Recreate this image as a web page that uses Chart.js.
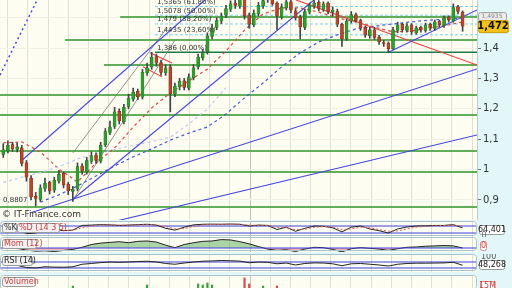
<!DOCTYPE html>
<html>
<head>
<meta charset="utf-8">
<script src="https://cdn.jsdelivr.net/npm/chart.js@4.4.1/dist/chart.umd.min.js"></script>
<style>
  body { margin: 0; width: 512px; height: 288px; overflow: hidden; position: relative; background: #e3f6f8; }
  canvas { position: absolute; left: 0; }
</style>
</head>
<body>
<canvas id="main" width="512" height="220" style="top:0"></canvas>
<canvas id="sto" width="512" height="16" style="top:221px"></canvas>
<canvas id="mom" width="512" height="15" style="top:237px"></canvas>
<canvas id="rsi" width="512" height="18" style="top:254px"></canvas>
<canvas id="vol" width="512" height="13" style="top:275px"></canvas>
<script>
// weekly candles (price)
const opens = [1.050,1.062,1.082,1.066,1.072,1.022,0.972,0.912,0.902,0.938, 0.958,0.932,0.962,0.988,0.952,0.928,0.938,1.012,0.992,1.028,
  1.048,1.028,1.082,1.122,1.142,1.192,1.158,1.208,1.232,1.258, 1.238,1.318,1.338,1.372,1.352,1.318,1.338,1.248,1.272,1.292,
  1.268,1.302,1.338,1.368,1.388,1.438,1.468,1.488,1.508,1.528, 1.548,1.538,1.562,1.508,1.476,1.512,1.538,1.558,1.572,1.548,
  1.502,1.532,1.552,1.522,1.502,1.468,1.518,1.538,1.550,1.528, 1.548,1.518,1.520,1.478,1.430,1.488,1.510,1.490,1.468,1.440,
  1.460,1.436,1.418,1.416,1.398,1.458,1.478,1.458,1.476,1.450, 1.468,1.458,1.478,1.464,1.488,1.474,1.502,1.490,1.536,1.518];
const closes = [1.065,1.080,1.068,1.075,1.020,0.975,0.910,0.905,0.940,0.955, 0.930,0.965,0.985,0.950,0.930,0.935,1.010,0.995,1.030,1.045,
  1.030,1.080,1.125,1.140,1.190,1.160,1.205,1.235,1.255,1.240, 1.320,1.335,1.370,1.350,1.320,1.335,1.250,1.275,1.290,1.270,
  1.305,1.335,1.370,1.385,1.440,1.465,1.490,1.505,1.530,1.545, 1.540,1.565,1.505,1.478,1.515,1.540,1.556,1.572,1.545,1.505,
  1.535,1.552,1.525,1.500,1.470,1.520,1.540,1.548,1.530,1.545, 1.520,1.525,1.478,1.430,1.488,1.510,1.490,1.465,1.442,1.460,
  1.435,1.420,1.415,1.398,1.460,1.476,1.460,1.473,1.453,1.466, 1.460,1.476,1.466,1.486,1.476,1.500,1.493,1.533,1.520,1.472];
const highs = [1.085,1.095,1.090,1.088,1.080,1.030,0.980,0.925,0.950,0.972, 0.962,0.975,0.998,0.992,0.958,0.945,1.022,1.020,1.040,1.058,
  1.055,1.090,1.135,1.160,1.205,1.200,1.215,1.248,1.268,1.265, 1.330,1.350,1.386,1.380,1.360,1.345,1.345,1.285,1.300,1.300,
  1.315,1.345,1.380,1.395,1.450,1.478,1.500,1.515,1.540,1.555, 1.560,1.575,1.570,1.515,1.525,1.550,1.566,1.580,1.578,1.552,
  1.545,1.560,1.558,1.530,1.508,1.528,1.548,1.556,1.556,1.552, 1.552,1.535,1.528,1.482,1.495,1.520,1.515,1.495,1.472,1.468,
  1.468,1.442,1.425,1.420,1.468,1.485,1.482,1.480,1.480,1.472, 1.472,1.482,1.482,1.492,1.492,1.506,1.506,1.545,1.540,1.522];
const lows = [1.040,1.055,1.060,1.058,1.012,0.962,0.900,0.8807,0.895,0.928, 0.920,0.925,0.955,0.940,0.918,0.895,0.930,0.985,0.985,1.020,
  1.020,1.022,1.075,1.115,1.135,1.150,1.150,1.200,1.225,1.230, 1.232,1.310,1.330,1.340,1.310,1.310,1.190,1.240,1.262,1.262,
  1.262,1.295,1.330,1.360,1.380,1.430,1.460,1.480,1.500,1.520, 1.530,1.530,1.495,1.465,1.470,1.505,1.530,1.550,1.540,1.460,
  1.495,1.525,1.515,1.492,1.430,1.460,1.512,1.530,1.522,1.520, 1.512,1.505,1.470,1.405,1.425,1.482,1.485,1.458,1.435,1.432,
  1.428,1.412,1.405,1.386,1.395,1.450,1.452,1.452,1.445,1.445, 1.452,1.452,1.458,1.458,1.468,1.468,1.485,1.485,1.512,1.455];
const volumes = [8,7,9,6,10,9,11,8,7,9, 6,8,7,9,10,14,9,8,7,6, 8,9,7,8,10,9,8,7,9,10, 8,15,9,8,10,11,9,8,7,9,
  10,8,16,15,17,15,9,8,10,9, 8,11,22,16,9,10,14,8,9,14, 10,8,9,11,10,8,9,7,8,9, 10,8,9,11,10,8,7,9,8,10,
  9,8,7,10,11,9,8,7,9,8, 10,9,8,7,9,11,8,10,9,8];

// moving averages sampled every 4 weeks
const maIdx = [0,4,8,12,16,20,24,28,32,36,40,44,48,52,56,60,64,68,72,76,80,84,88,92,96,99];
const redMA = [1.088,1.091,1.058,1.002,0.959,1.022,1.071,1.140,1.203,1.252,1.292,1.331,1.390,1.459,1.512,1.532,1.532,1.518,1.499,1.486,1.469,1.453,1.456,1.466,1.476,1.486];
const blueMA = [null,null,0.893,0.917,0.946,0.979,1.012,1.042,1.068,1.097,1.120,1.140,1.183,1.236,1.285,1.338,1.384,1.420,1.443,1.463,1.472,1.479,1.486,1.492,1.495,1.499];
const paleMA = [0.958,0.975,0.990,1.010,1.035,1.052,1.066,1.080,1.092,1.107,1.150,1.200,1.270,null,null,null,null,null,null,null,null,null,null,null,null,null];

// horizontal support / resistance levels and where they start
const supportLevels = [1.502, 1.426, 1.344, 1.245, 1.180, 1.061, 0.992, 0.877];
const supportFrom   = [25.2, 13.3, 21.7, -0.7, -0.7, -0.7, -0.7, -0.7];
const fibLevels = [1.5365, 1.5078, 1.479, 1.4435, 1.386];
const fibPct = ['61,80%', '50,00%', '38,20%', '23,60%', '0,00%'];
const fibFrom = 32.7;
const lowLabel = 0.8807;
const lastPrice = 1.472;

// trend lines [week, price]
const blueTrends = [
  [[3.61, 1.025], [43.48, 1.558]],
  [[14.82, 0.900], [66.97, 1.558]],
  [[5.77, 0.857], [102.1, 1.331]],
  [[20.85, 0.818], [102.1, 1.114]],
  [[83.14, 1.387], [102.1, 1.525]]
];
const blueDotted = [[-0.7, 1.311], [7.5, 1.564]];
const redTrends = [
  [[63.09, 1.558], [102.1, 1.344]],
  [[31.63, 1.384], [36.37, 1.351]],
  [[30.12, 1.338], [34.21, 1.305]]
];
const greyTrends = [
  [[15.03, 1.055], [35.29, 1.466]],
  [[15.03, 0.900], [37.02, 1.426]]
];

// oscillators, every second week
const oscIdx = Array.from({length: 50}, (_, k) => 2 * k + 1);
const stochK = [70,55,15,20,50,45,40,45,85,88, 92,90,85,88,92,95,88,60,45,70, 90,95,96,95,97,95,80,88,85,50,
  70,35,60,80,78,65,30,70,80,55, 40,20,55,72,80,82,85,85,92,64.4];
const stochD = [75,62,35,22,35,45,43,42,65,80, 88,90,88,87,88,92,90,75,55,58, 75,88,93,95,96,95,88,86,85,68,
  65,50,52,68,76,72,50,55,70,65, 50,35,38,55,70,78,82,84,88,78];
const momentum = [0.01,-0.01,-0.06,-0.09,-0.08,-0.1,-0.07,-0.04,0.02,0.1, 0.14,0.16,0.18,0.15,0.19,0.2,0.17,0.08,0.01,0.1,
  0.15,0.19,0.2,0.24,0.23,0.18,0.12,0.04,-0.03,-0.07, -0.05,-0.1,-0.03,0.02,0.01,-0.04,-0.11,-0.02,0.01,-0.01,
  -0.03,-0.07,-0.02,0.02,0.03,0.05,0.06,0.07,0.06,0];
const rsi = [55,48,33,30,38,36,35,38,55,60, 66,70,68,70,73,75,70,60,55,63, 70,75,77,80,78,76,65,70,68,58,
  63,50,60,64,63,58,45,58,60,55, 50,43,55,60,62,62,63,64,68,48.3];

const xMin = -0.7, xMax = 102.1;
const yearMark = 53.18, monthStep = 4.353;
const fmt = v => String(v).replace('.', ',');
const FONT = '"DejaVu Sans", sans-serif';
const isUp = i => closes[i] >= opens[i];

// vertical month grid
const xScale = () => ({
  type: 'linear', min: xMin, max: xMax, offset: false,
  afterBuildTicks: s => {
    const t = [];
    for (let k = -12; k <= 11; k++) t.push({ value: yearMark + k * monthStep });
    s.ticks = t;
  },
  ticks: { display: false },
  grid: { offset: false, drawTicks: false, color: c => (c.tick && Math.abs(c.tick.value - yearMark) < 0.01) ? '#c4c4b8' : '#e0e0d4' },
  border: { display: false },
  afterFit: s => { s.height = 0; s.paddingLeft = 0; s.paddingRight = 0; }
});

const line = (pts, color, width, dash, order) => ({
  type: 'line', data: pts.map(p => ({ x: p[0], y: p[1] })),
  borderColor: color, borderWidth: width, borderDash: dash || [],
  pointRadius: 0, fill: false, tension: 0, order: order || 3
});
const maLine = (vals, color, width) => line(maIdx.map((x, k) => [x, vals[k]]).filter(p => p[1] !== null), color, width, [3, 3], 4);

function box(ctx, x, y, w, h, fill, stroke) {
  ctx.fillStyle = fill; ctx.strokeStyle = stroke; ctx.lineWidth = 1;
  ctx.beginPath(); ctx.roundRect(x + 0.5, y + 0.5, w, h, 2); ctx.fill(); ctx.stroke();
}

const bg = {
  id: 'bg',
  beforeDraw(c) {
    const { ctx, chartArea: a } = c;
    ctx.save();
    ctx.fillStyle = '#e3f6f8'; ctx.fillRect(0, 0, c.width, c.height);
    ctx.fillStyle = '#fdfdf1'; ctx.fillRect(a.left, a.top, a.right - a.left, a.bottom - a.top);
    ctx.restore();
  }
};

// ---------- main price chart ----------
const mainSets = [];
mainSets.push({
  type: 'bar', data: closes.map((_, i) => ({ x: i, y: [lows[i], highs[i]] })),
  backgroundColor: '#444', barThickness: 1, grouped: false, order: 1
});
mainSets.push({
  type: 'bar', data: closes.map((_, i) => ({ x: i, y: [opens[i], closes[i]] })),
  backgroundColor: closes.map((_, i) => isUp(i) ? '#2f9e2f' : '#b8452a'),
  borderColor: closes.map((_, i) => isUp(i) ? '#1d6e1d' : '#7a2a18'),
  borderWidth: 0.5, borderSkipped: false, barThickness: 3, grouped: false, order: 0
});
supportLevels.forEach((v, k) => mainSets.push(line([[supportFrom[k], v], [xMax, v]], 'rgba(70,160,65,0.85)', 2, null, 5)));
fibLevels.forEach((v, k) => mainSets.push(line([[fibFrom, v], [xMax, v]],
  k === fibLevels.length - 1 ? '#1f7a4a' : '#7fd0ec', k === fibLevels.length - 1 ? 1.5 : 1, k === fibLevels.length - 1 ? null : [3, 2], 5)));
mainSets.push(maLine(paleMA, '#c4c8f0', 1.2));
mainSets.push(maLine(blueMA, '#4a5ad8', 1.2));
mainSets.push(maLine(redMA, '#e04848', 1.2));
blueTrends.forEach(t => mainSets.push(line(t, '#4848e0', 1.1, null, 3)));
mainSets.push(line(blueDotted, '#4848e0', 1.5, [2, 3], 3));
redTrends.forEach(t => mainSets.push(line(t, '#ee4040', 1.1, null, 3)));
greyTrends.forEach(t => mainSets.push(line(t, '#777777', 0.8, null, 3)));

const mainOverlay = {
  id: 'mainOverlay',
  afterDraw(c) {
    const { ctx } = c, xs = c.scales.x, ys = c.scales.y;
    ctx.save();
    ctx.textBaseline = 'bottom';
    ctx.fillStyle = '#333';
    ctx.font = '7px ' + FONT;
    fibLevels.forEach((v, k) => {
      ctx.fillText(fmt(v) + ' (' + fibPct[k] + ')', xs.getPixelForValue(fibFrom) + 2, ys.getPixelForValue(v) - 1);
    });
    ctx.fillText(fmt(lowLabel), 3, ys.getPixelForValue(lowLabel) - 2);
    ctx.font = '9px ' + FONT;
    ctx.textBaseline = 'middle';
    ctx.fillText('\u00A9 IT-Finance.com', 2, 215);
    // price boxes on the axis
    const py = ys.getPixelForValue(lastPrice);
    box(ctx, 478, py - 14, 28, 8, '#ececec', '#a0a0a0');
    ctx.fillStyle = '#888'; ctx.font = '6px ' + FONT; ctx.textAlign = 'center';
    ctx.fillText('1,4935', 492, py - 10);
    box(ctx, 478, py - 6, 30, 12, '#f2c21a', '#c9a000');
    ctx.fillStyle = '#111'; ctx.font = 'bold 10px ' + FONT;
    ctx.fillText(fmt(lastPrice), 493, py + 0.5);
    ctx.restore();
  }
};

new Chart(document.getElementById('main'), {
  type: 'bar',
  data: { datasets: mainSets },
  options: {
    responsive: false, animation: false, devicePixelRatio: 1,
    layout: { padding: 0 },
    plugins: { legend: { display: false }, tooltip: { enabled: false } },
    scales: {
      x: xScale(),
      y: {
        position: 'right', min: 0.8342, max: 1.5579,
        ticks: { stepSize: 0.1, includeBounds: false, color: '#333', font: { size: 10, family: FONT }, padding: 2,
          callback: v => fmt(Math.round(v * 10) / 10) },
        grid: { color: '#f1f1e6', tickLength: 4, tickColor: '#777' },
        border: { color: '#b9cfd6' },
        afterFit: s => { s.width = 35; s.paddingTop = 0; s.paddingBottom = 0; }
      }
    }
  },
  plugins: [bg, mainOverlay]
});

// ---------- indicator panels ----------
function panel(id, yMin, yMax, datasets, draw) {
  new Chart(document.getElementById(id), {
    type: 'line',
    data: { datasets },
    options: {
      responsive: false, animation: false, devicePixelRatio: 1,
      layout: { padding: { left: 0, right: 35, top: 0, bottom: 0 } },
      plugins: { legend: { display: false }, tooltip: { enabled: false } },
      scales: { x: xScale(), y: { min: yMin, max: yMax, display: false } }
    },
    plugins: [bg, { id: 'lbl', afterDraw: c => { c.ctx.save(); draw(c.ctx, c); c.ctx.restore(); } }]
  });
}
const frame = (ctx, h) => { ctx.strokeStyle = '#a9c3cf'; ctx.lineWidth = 1; ctx.beginPath(); ctx.roundRect(0.5, 0.5, 476, h, 3); ctx.stroke(); };
const tag = (ctx, x, y, w, text, color) => {
  box(ctx, x, y, w, 9, '#f1f1f1', '#9a9a9a');
  ctx.fillStyle = color; ctx.font = '8px ' + FONT; ctx.textBaseline = 'middle'; ctx.textAlign = 'left';
  ctx.fillText(text, x + 2, y + 5);
};
const osc = (vals, color, width, dash) => line(oscIdx.map((x, k) => [x, vals[k]]), color, width, dash, 2);
const hline = (v, order) => line([[xMin, v], [xMax, v]], '#4040e0', 1, null, order || 4);

panel('sto', -14, 123, [hline(80), hline(20), osc(stochD, '#e06060', 1, [2, 2]), osc(stochK, '#222', 1)], (ctx) => {
  frame(ctx, 14);
  tag(ctx, 2, 2, 14, '%K', '#333');
  tag(ctx, 17, 2, 42, '%D (14 3 5)', '#d04040');
  box(ctx, 479, 4, 25, 9, '#fff', '#999');
  ctx.fillStyle = '#222'; ctx.font = '8px ' + FONT; ctx.textAlign = 'center'; ctx.textBaseline = 'middle';
  ctx.fillText('64,401', 492, 9);
  ctx.fillStyle = '#666'; ctx.fillText('0', 484, 15);
});

const momSet = osc(momentum, '#222', 1);
momSet.fill = { target: { value: 0 }, above: 'rgba(90,170,90,0.5)', below: 'rgba(225,110,110,0.5)' };
panel('mom', -0.114, 0.314, [hline(0, 1), momSet], (ctx) => {
  frame(ctx, 13);
  tag(ctx, 2, 2, 34, 'Mom (12)', '#d04040');
  box(ctx, 480, 4, 6, 9, '#fff', '#e08080');
  ctx.fillStyle = '#d04040'; ctx.font = '8px ' + FONT; ctx.textAlign = 'center'; ctx.textBaseline = 'middle';
  ctx.fillText('0', 483.5, 9);
});

panel('rsi', 3.3, 123.3, [hline(70), hline(30), osc(rsi, '#222', 1)], (ctx) => {
  frame(ctx, 16);
  tag(ctx, 2, 2, 30, 'RSI (14)', '#222');
  ctx.fillStyle = '#555'; ctx.font = '8px ' + FONT; ctx.textAlign = 'left'; ctx.textBaseline = 'middle';
  ctx.fillText('100', 481, 3);
  box(ctx, 479, 6, 25, 9, '#fff', '#999');
  ctx.fillStyle = '#222'; ctx.textAlign = 'center';
  ctx.fillText('48,268', 492, 11);
});

const volSet = {
  type: 'bar', data: volumes.map((v, i) => ({ x: i, y: v })),
  backgroundColor: volumes.map((_, i) => isUp(i) ? '#3aa03a' : '#e04848'),
  barThickness: 1.5, grouped: false
};
panel('vol', 12, 25, [volSet], (ctx) => {
  frame(ctx, 14);
  tag(ctx, 2, 2, 33, 'Volumen', '#d04040');
  box(ctx, 480, 6, 14, 9, '#fff', '#e08080');
  ctx.fillStyle = '#d04040'; ctx.font = '8px ' + FONT; ctx.textAlign = 'center'; ctx.textBaseline = 'middle';
  ctx.fillText('15M', 487.5, 11);
});
</script>
</body>
</html>
